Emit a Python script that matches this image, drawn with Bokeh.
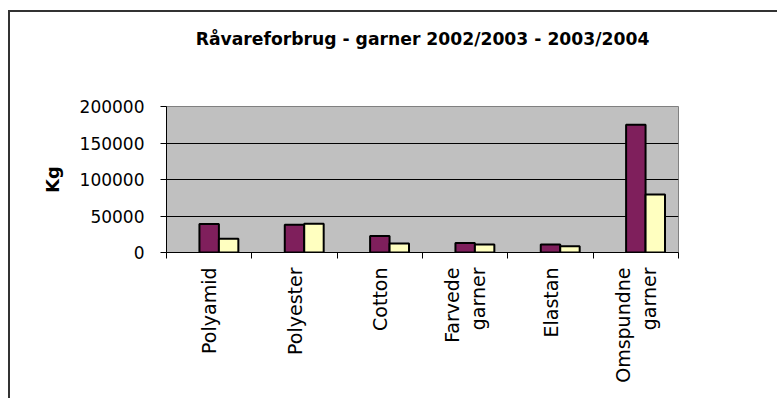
import math
from bokeh.plotting import figure
from bokeh.models import (FactorRange, Range1d, LinearAxis, CategoricalAxis,
                          ColumnDataSource, FixedTicker)
from bokeh.transform import dodge
from bokeh.embed import file_html
from bokeh.resources import INLINE

# ---- data ----
categories = ["Polyamid", "Polyester", "Cotton", "Farvede\ngarner", "Elastan", "Omspundne\ngarner"]
kg_2002_2003 = [39000, 38000, 22500, 13000, 11000, 175000]
kg_2003_2004 = [19000, 39500, 12500, 11000, 8500, 79500]
y_ticks = [0, 50000, 100000, 150000, 200000]
y_tick_labels = ["0", "50000", "100000", "150000", "200000"]
title_text = "Råvareforbrug - garner 2002/2003 - 2003/2004"
y_label = "Kg"

FONT = "DejaVu Sans"
PURPLE = "#7F1F5C"
YELLOW = "#FFFFC0"
NB = "\u00a0"

src = ColumnDataSource(dict(cat=categories, a=kg_2002_2003, b=kg_2003_2004))

p = figure(x_range=FactorRange(*categories, range_padding=0),
           y_range=Range1d(0, y_ticks[-1]),
           width=769, height=388, output_backend="svg", toolbar_location=None,
           x_axis_location=None, title_location=None,
           min_border_left=156, min_border_right=101, min_border_top=94, min_border_bottom=148)

# outer chart border (chart area frame)
p.styles = {"margin-left": "8px", "margin-top": "10px",
            "border-left": "2px solid #333333", "border-top": "2px solid #333333"}

p.background_fill_color = "#C0C0C0"
p.border_fill_color = "white"
p.outline_line_color = "#808080"
p.outline_line_width = 1

# chart title, drawn as the label of an otherwise empty top axis
title_ax = LinearAxis(ticker=FixedTicker(ticks=[]), bounds=(0, 5.368))
title_ax.axis_label = title_text
title_ax.axis_label_standoff = 58
title_ax.axis_label_text_font = FONT
title_ax.axis_label_text_font_size = "17.2px"
title_ax.axis_label_text_font_style = "bold"
title_ax.axis_label_text_color = "black"
title_ax.axis_line_color = None
title_ax.major_tick_out = 0
title_ax.major_tick_in = 0
title_ax.minor_tick_out = 0
title_ax.minor_tick_in = 0
title_ax.major_label_standoff = 0
p.add_layout(title_ax, "above")

# bars
bw = 0.228
p.vbar(x=dodge("cat", 0.0, range=p.x_range), top="a", width=bw, source=src,
       fill_color=PURPLE, line_color="black", line_width=2)
p.vbar(x=dodge("cat", bw, range=p.x_range), top="b", width=bw, source=src,
       fill_color=YELLOW, line_color="black", line_width=2)

# y axis
yax = p.yaxis[0]
yax.ticker = FixedTicker(ticks=y_ticks)
yax.major_label_overrides = {t: l for t, l in zip(y_ticks, y_tick_labels)}
yax.axis_line_color = "black"
yax.axis_line_width = 1
yax.major_tick_out = 6
yax.major_tick_in = 0
yax.minor_tick_line_color = None
yax.major_tick_line_color = "black"
yax.major_label_standoff = 16
yax.major_label_text_font = FONT
yax.major_label_text_font_size = "17px"
yax.major_label_text_color = "black"
yax.axis_label = y_label
yax.axis_label_text_font = FONT
yax.axis_label_text_font_size = "18px"
yax.axis_label_text_font_style = "bold"
yax.axis_label_text_color = "black"
yax.axis_label_standoff = 14

p.ygrid.ticker = FixedTicker(ticks=y_ticks[1:-1])
p.ygrid.grid_line_color = "black"
p.ygrid.grid_line_width = 1
p.xgrid.visible = False

# x axis: tick marks at category boundaries (synthetic coordinates 0..n)
bounds = list(range(len(categories) + 1))
tick_ax = LinearAxis(ticker=FixedTicker(ticks=bounds))
tick_ax.major_label_overrides = {b: "" for b in bounds}
tick_ax.axis_line_color = "black"
tick_ax.major_tick_out = 6
tick_ax.major_tick_in = 0
tick_ax.minor_tick_line_color = None
tick_ax.major_label_standoff = 0
p.add_layout(tick_ax, "below")

cat_ax = CategoricalAxis()
cat_ax.axis_line_color = None
cat_ax.major_tick_line_color = None
cat_ax.minor_tick_line_color = None
cat_ax.major_label_orientation = math.pi / 2
cat_ax.major_label_standoff = 3
cat_ax.major_label_text_font = FONT
cat_ax.major_label_text_font_size = "19px"
cat_ax.major_label_text_color = "black"
# centre the second line of two-line labels (labels are end-justified when rotated)
cat_ax.major_label_overrides = {
    "Farvede\ngarner": "Farvede\ngarner" + NB * 2,
    "Omspundne\ngarner": "Omspundne\ngarner" + NB * 4,
}
p.add_layout(cat_ax, "below")

open("out.html", "w").write(file_html(p, INLINE))
